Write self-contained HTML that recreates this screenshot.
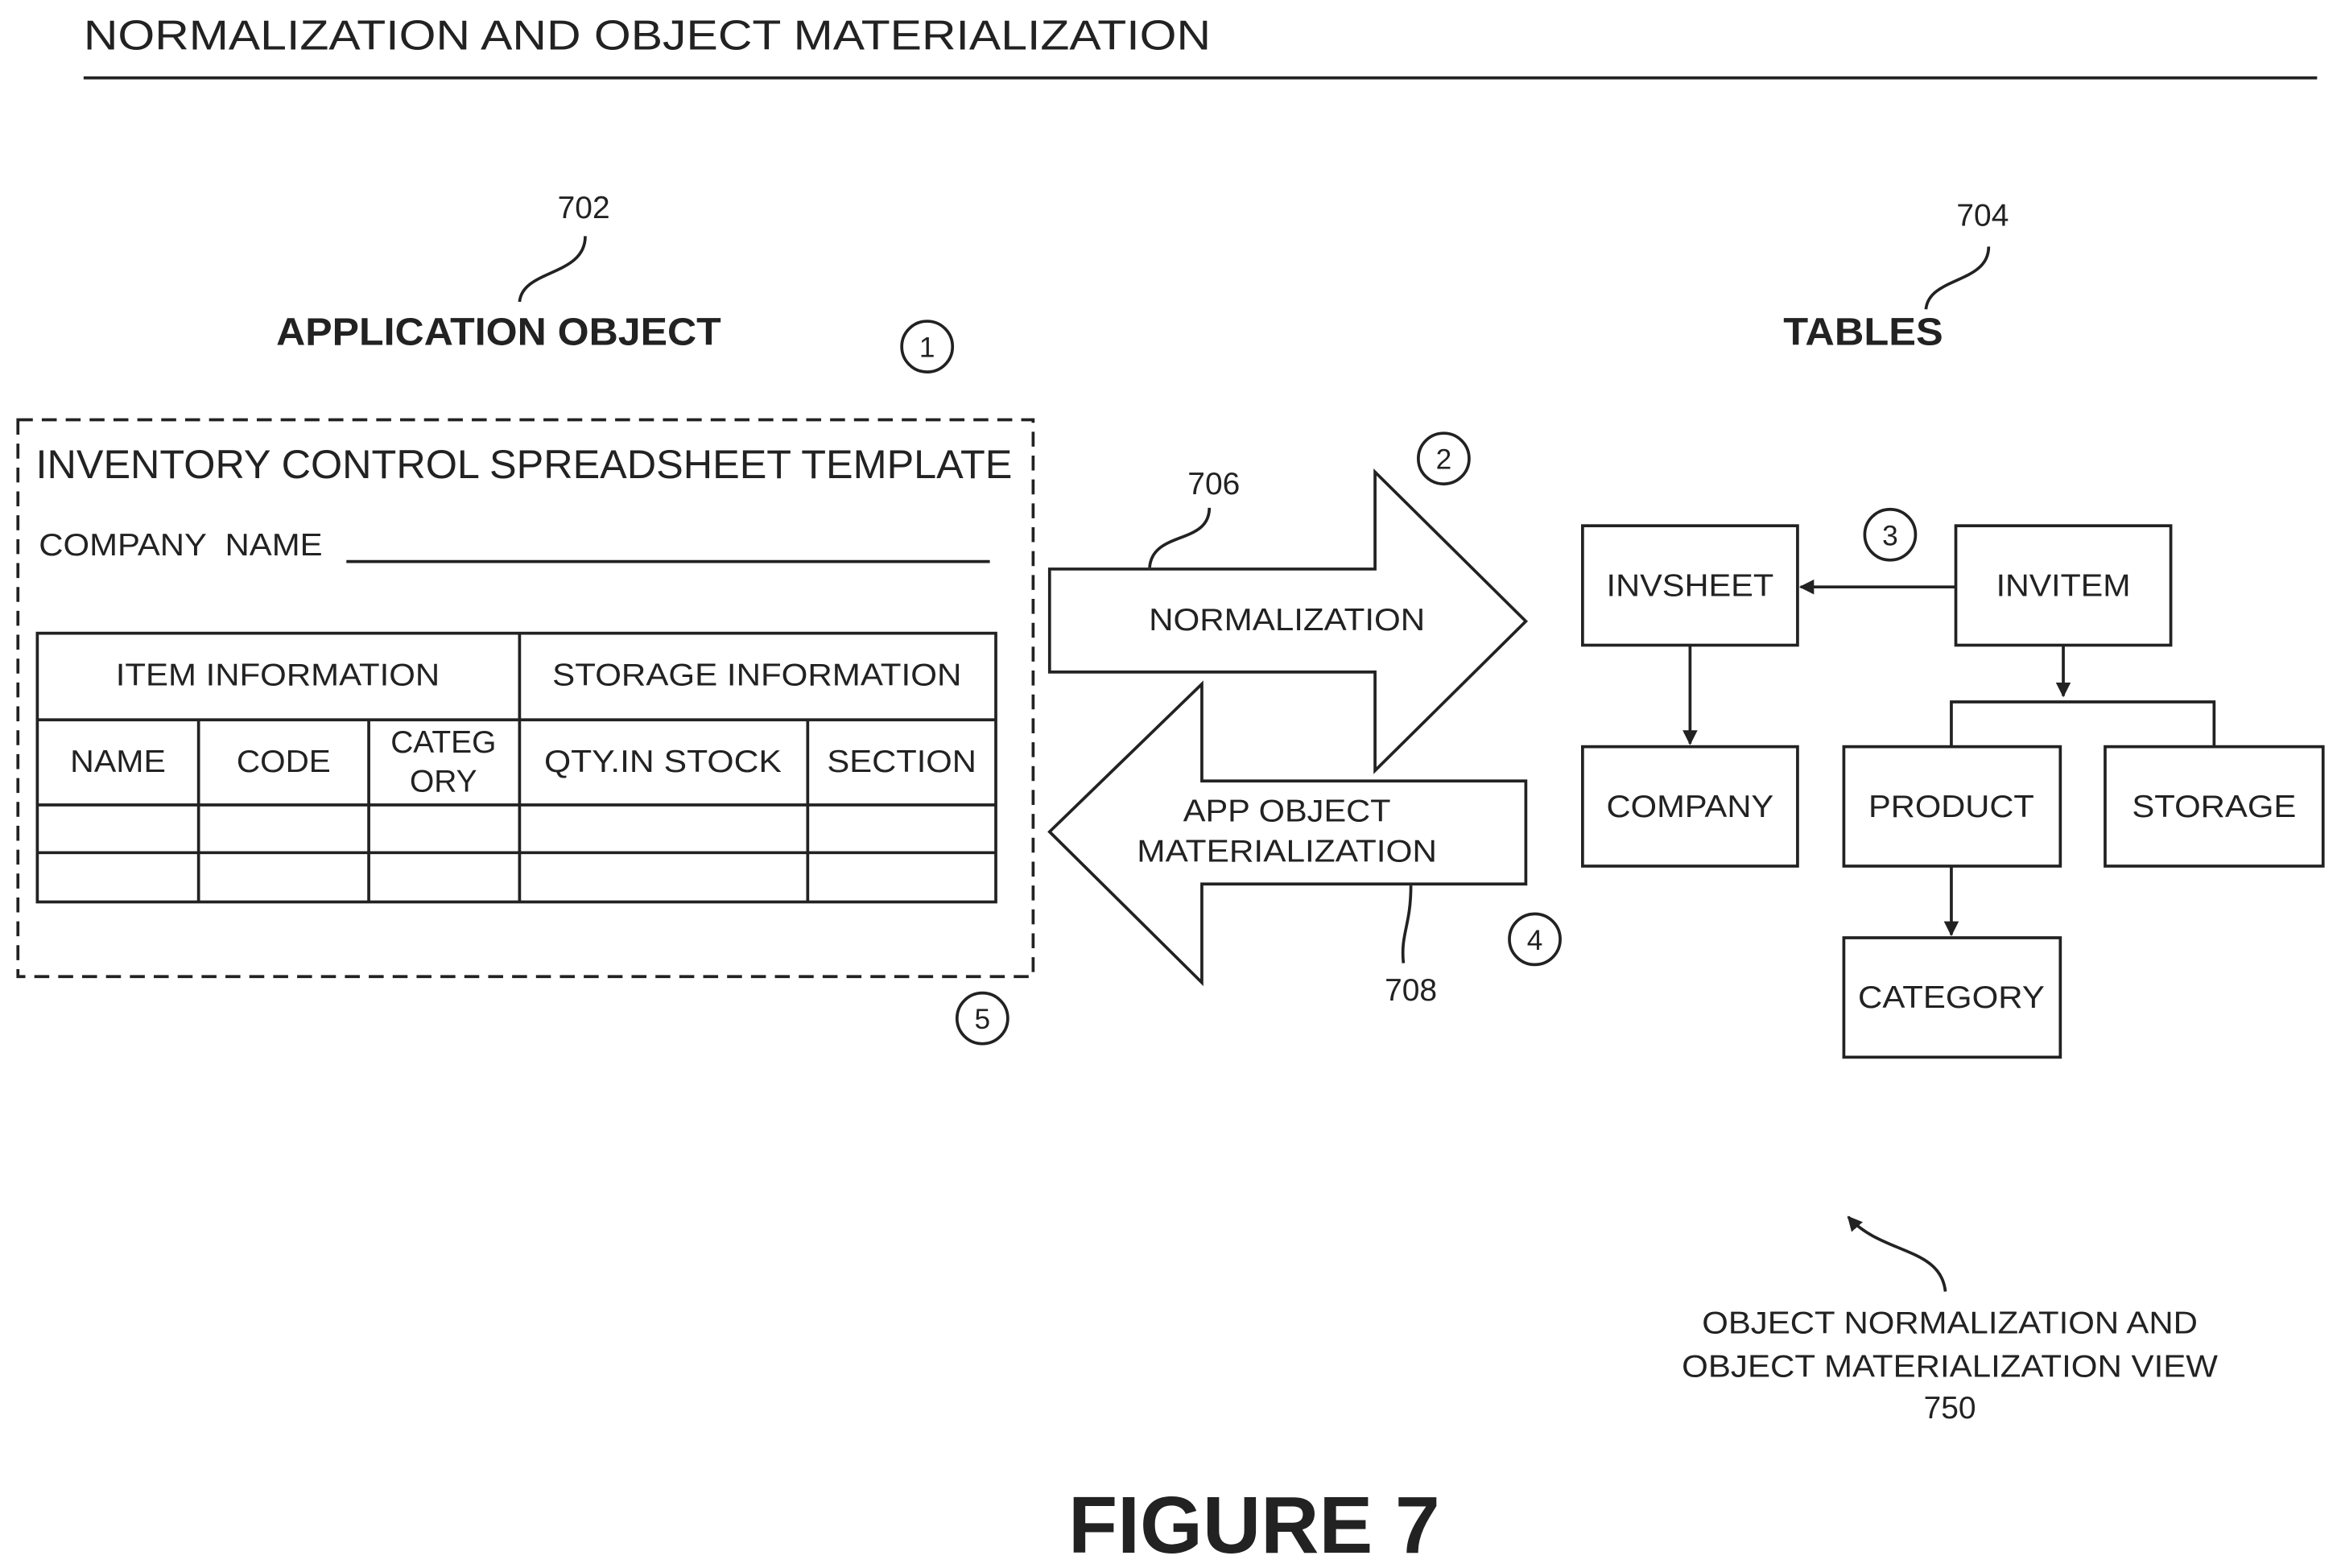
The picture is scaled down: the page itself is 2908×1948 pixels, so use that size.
<!DOCTYPE html>
<html><head><meta charset="utf-8"><style>html,body{margin:0;padding:0;background:#fff}svg{display:block}</style></head>
<body>
<svg width="2908" height="1948" viewBox="0 0 1568 1050" xmlns="http://www.w3.org/2000/svg" font-family="Liberation Sans, Arial, sans-serif" fill="none" stroke="#222" stroke-width="2">
<defs><marker id="ah" markerWidth="10" markerHeight="10" refX="9" refY="5" orient="auto" markerUnits="userSpaceOnUse"><path d="M0,0 L10,5 L0,10 z" fill="#222" stroke="none"/></marker></defs>
<g fill="#222" stroke="none" lengthAdjust="spacingAndGlyphs">
<text x="56" y="33" font-size="28" textLength="755" lengthAdjust="spacingAndGlyphs">NORMALIZATION AND OBJECT MATERIALIZATION</text>
<text x="391" y="146" font-size="21" text-anchor="middle">702</text>
<text x="334" y="231" font-size="26" font-weight="bold" text-anchor="middle" textLength="298" lengthAdjust="spacingAndGlyphs">APPLICATION OBJECT</text>
<text x="1328" y="151" font-size="21" text-anchor="middle">704</text>
<text x="1248" y="231" font-size="26" font-weight="bold" text-anchor="middle" textLength="107" lengthAdjust="spacingAndGlyphs">TABLES</text>
<text x="24" y="320" font-size="27" textLength="654" lengthAdjust="spacingAndGlyphs">INVENTORY CONTROL SPREADSHEET TEMPLATE</text>
<text x="26" y="372" font-size="21" textLength="190" lengthAdjust="spacingAndGlyphs" xml:space="preserve">COMPANY  NAME</text>
<text x="186" y="459" font-size="21" text-anchor="middle" textLength="217" lengthAdjust="spacingAndGlyphs">ITEM INFORMATION</text>
<text x="507" y="459" font-size="21" text-anchor="middle" textLength="274" lengthAdjust="spacingAndGlyphs">STORAGE INFORMATION</text>
<text x="79" y="517" font-size="21" text-anchor="middle" textLength="64" lengthAdjust="spacingAndGlyphs">NAME</text>
<text x="190" y="517" font-size="21" text-anchor="middle" textLength="63" lengthAdjust="spacingAndGlyphs">CODE</text>
<text x="297" y="504" font-size="21" text-anchor="middle">CATEG</text>
<text x="297" y="530" font-size="21" text-anchor="middle">ORY</text>
<text x="444" y="517" font-size="21" text-anchor="middle" textLength="159" lengthAdjust="spacingAndGlyphs">QTY.IN STOCK</text>
<text x="604" y="517" font-size="21" text-anchor="middle" textLength="100" lengthAdjust="spacingAndGlyphs">SECTION</text>
<text x="862" y="422" font-size="21" text-anchor="middle" textLength="185" lengthAdjust="spacingAndGlyphs">NORMALIZATION</text>
<text x="862" y="550" font-size="21" text-anchor="middle" textLength="139" lengthAdjust="spacingAndGlyphs">APP OBJECT</text>
<text x="862" y="577" font-size="21" text-anchor="middle" textLength="201" lengthAdjust="spacingAndGlyphs">MATERIALIZATION</text>
<text x="813" y="331" font-size="21" text-anchor="middle">706</text>
<text x="945" y="670" font-size="21" text-anchor="middle">708</text>
<text x="621" y="239" font-size="19" text-anchor="middle">1</text>
<text x="967" y="314" font-size="19" text-anchor="middle">2</text>
<text x="1266" y="365" font-size="19" text-anchor="middle">3</text>
<text x="1028" y="636" font-size="19" text-anchor="middle">4</text>
<text x="658" y="689" font-size="19" text-anchor="middle">5</text>
<text x="1132" y="399" font-size="21" text-anchor="middle" textLength="112" lengthAdjust="spacingAndGlyphs">INVSHEET</text>
<text x="1382" y="399" font-size="21" text-anchor="middle" textLength="90" lengthAdjust="spacingAndGlyphs">INVITEM</text>
<text x="1132" y="547" font-size="21" text-anchor="middle" textLength="112" lengthAdjust="spacingAndGlyphs">COMPANY</text>
<text x="1307" y="547" font-size="21" text-anchor="middle" textLength="111" lengthAdjust="spacingAndGlyphs">PRODUCT</text>
<text x="1483" y="547" font-size="21" text-anchor="middle" textLength="110" lengthAdjust="spacingAndGlyphs">STORAGE</text>
<text x="1307" y="675" font-size="21" text-anchor="middle" textLength="125" lengthAdjust="spacingAndGlyphs">CATEGORY</text>
<text x="1306" y="893" font-size="21" text-anchor="middle" textLength="332" lengthAdjust="spacingAndGlyphs">OBJECT NORMALIZATION AND</text>
<text x="1306" y="922" font-size="21" text-anchor="middle" textLength="359" lengthAdjust="spacingAndGlyphs">OBJECT MATERIALIZATION VIEW</text>
<text x="1306" y="950" font-size="21" text-anchor="middle">750</text>
<text x="840" y="1040" font-size="54" font-weight="bold" text-anchor="middle">FIGURE 7</text>
</g>
<line x1="56" y1="52" x2="1552" y2="52"/>
<path d="M348,202 C350,180 392,185 392,158"/>
<path d="M1290,207 C1292,185 1332,190 1332,165"/>
<circle cx="621" cy="232" r="17"/><circle cx="967" cy="307" r="17"/><circle cx="1266" cy="358" r="17"/><circle cx="1028" cy="629" r="17"/><circle cx="658" cy="682" r="17"/>
<rect x="12" y="281" width="680" height="373" stroke-dasharray="10,6"/>
<line x1="232" y1="376" x2="663" y2="376"/>
<rect x="25" y="424" width="642" height="180"/>
<line x1="25" y1="482" x2="667" y2="482"/><line x1="25" y1="539" x2="667" y2="539"/><line x1="25" y1="571" x2="667" y2="571"/>
<line x1="348" y1="424" x2="348" y2="604"/><line x1="133" y1="482" x2="133" y2="604"/><line x1="247" y1="482" x2="247" y2="604"/><line x1="541" y1="482" x2="541" y2="604"/>
<polygon points="703,381 921,381 921,316 1022,416 921,516 921,450 703,450"/>
<polygon points="1022,523 805,523 805,458 703,557 805,658 805,592 1022,592"/>
<path d="M770,380 C772,355 810,365 810,340"/>
<path d="M945,593 C945,620 938,625 940,645"/>
<rect x="1060" y="352" width="144" height="80"/><rect x="1310" y="352" width="144" height="80"/>
<rect x="1060" y="500" width="144" height="80"/><rect x="1235" y="500" width="145" height="80"/><rect x="1410" y="500" width="146" height="80"/><rect x="1235" y="628" width="145" height="80"/>
<line x1="1310" y1="393" x2="1206" y2="393" marker-end="url(#ah)"/>
<line x1="1132" y1="432" x2="1132" y2="498" marker-end="url(#ah)"/>
<line x1="1382" y1="432" x2="1382" y2="466" marker-end="url(#ah)"/>
<polyline points="1307,500 1307,470 1483,470 1483,500"/>
<line x1="1307" y1="580" x2="1307" y2="626" marker-end="url(#ah)"/>
<path d="M1303,865 C1300,835 1260,840 1238,815" marker-end="url(#ah)"/>
</svg>
</body></html>
